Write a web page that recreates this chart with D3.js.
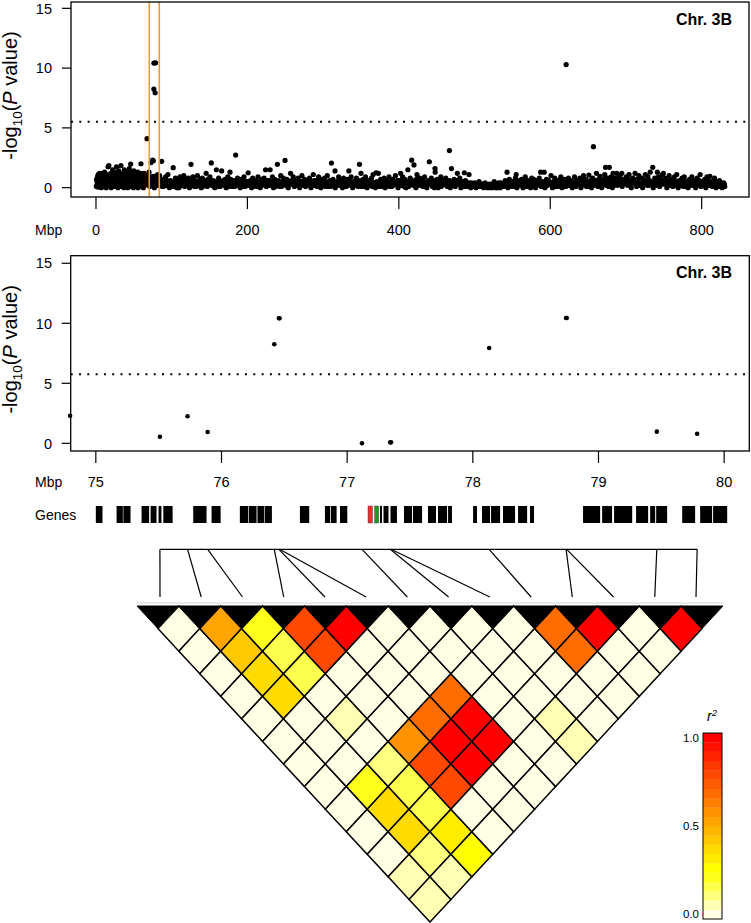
<!DOCTYPE html>
<html><head><meta charset="utf-8">
<script src="https://cdn.jsdelivr.net/npm/d3@7"></script>
<style>body{margin:0;background:#fff}svg{display:block;font-family:"Liberation Sans",Arial,Helvetica,sans-serif}</style>
</head><body><svg id="c" width="751" height="923"></svg>
<script>
// ---------------- DATA ----------------
const chromLabel = "Chr. 3B";
const genomeTicks = [0, 200, 400, 600, 800];
const regionTicks = [75, 76, 77, 78, 79, 80];
const pTicks = [0, 5, 10, 15];
const genomeThreshold = 5.52;
const regionThreshold = 5.75;
const highlightMbp = [70.4, 83.6];

// genome-wide points [Mbp, -log10 P]
const gwasPoints = [
[0.5,0.1],[1,0.6],[1.5,0.3],[2,0.9],[2.5,0.05],[3,1.1],[3.5,0.4],[4,0.7],[5,0.2],[5.5,1.0],[6,0.5],[7,0.0],[7.5,0.8],[8,1.2],[9,0.3],[9.5,0.6],[10,0.1],[11,0.9],[11.5,1.3],[12,0.4],[13,0.7],[13.5,0.0],[14,1.1],[15,0.5],[15.5,0.2],[16,1.75],[16.5,0.8],[17,1.84],[17.5,1.0],[18,0.3],[19,0.6],[19.5,1.2],[20,0.0],[21,0.9],[21.5,0.4],[22,1.5],[23,0.7],[23.5,0.1],[24,1.1],[25,0.5],[25.5,0.9],[26,0.2],[27,1.75],[27.5,0.6],[28,1.3],[29,0.0],[29.5,0.8],[30,1.4],[31,0.3],[31.5,1.0],[32,0.5],[33,1.84],[33.5,0.7],[34,0.1],[35,1.2],[35.5,0.4],[36,0.9],[37,0.0],[37.5,1.5],[38,0.6],[39,1.1],[39.5,0.2],[40,0.8],[41,1.3],[41.5,0.4],[42,0.0],[43,1.0],[43.5,0.6],[44,1.6],[45,0.3],[45.8,1.97],[46,0.9],[47,0.1],[47.5,1.2],[48,0.5],[49,0.8],[49.5,0.0],[50,1.4],[51,0.3],[51.5,0.7],[52,1.1],[53,0.2],[53.5,0.9],[54,0.5],[55,1.3],[55.5,0.0],[56,0.7],[57,1.0],[57.5,0.3],[58,0.6],[59,1.2],[59.4,2.0],[60,0.1],[60.5,0.8],[61,0.4],[62,1.1],[62.5,0.0],[63,0.6],[64,0.9],[64.5,0.2],[65,0.5],
[65.5,0.3],[66,1.0],[67.4,4.1],[68,0.7],[69,0.3],[70,1.3],[71,0.1],[72,0.6],[72.7,2.1],[73,0.9],[74,0.2],[74.8,2.3],[75.52,0.55],[75.73,2.25],[75.89,0.94],[76.42,8.25],[76.46,10.42],[77.12,0.0],[77.35,0.08],[78.13,7.94],[78.74,10.44],[79.46,0.97],[79.78,0.8],[80.5,0.4],[81.5,1.1],[82.5,0.2],[83.5,0.7],
[85,0.3],[86.8,2.2],[88,0.7],[89,0.1],[90.5,0.5],[92,0.9],[93.5,0.2],[95,1.1],[97,0.0],[98.5,0.6],
[100,0.4],[102,1.67],[103,0.1],[105,0.8],[106.5,0.3],[108,0.6],[109.5,0.0],[111,0.9],[112.5,0.2],[114,0.5],[116,1.0],[117,0.1],[119,0.7],
[120.5,0.3],[122,0.8],[123.5,0.0],[125.5,1.95],[126,0.5],[128,0.9],[129.5,0.2],[131,0.6],[132.5,0.1],[134,1.0],[136,0.4],[137.5,0.7],[139,0.0],
[140.5,0.8],[142,0.3],[144,0.6],[145.5,1.2],[147,0.1],[149,0.5],[150.5,0.9],[152.3,2.07],[153,0.2],[155,0.6],[157,0.0],[159,1.5],
[160.5,0.4],[162,0.8],[164,0.1],[166,1.4],[167,0.5],[169,0.2],[170.5,0.7],[172,0.0],[174,0.9],[175.5,0.3],[177,1.3],[179,0.5],
[180.5,0.1],[182,0.6],[184.5,2.73],[185,0.2],[187,0.8],[189,0.4],[190.5,0.0],[192,0.7],[194,0.3],[195.5,0.9],[197,0.1],[199,0.5],
[201,1.25],[202,0.2],[204,0.6],[205.5,0.0],[207,0.8],[209,0.3],[210.5,0.6],[212,0.1],[214,0.9],[215.5,0.4],[217,0.0],[219,0.7],
[220.5,0.3],[222,0.8],[224,1.5],[225,0.1],[227,0.6],[229,0.2],[230,1.5],[231,0.5],[233,0.9],[234.5,0.0],[236,0.7],[238,0.3],[239.6,1.95],
[241,0.6],[242.5,0.1],[244,1.0],[246,0.4],[247.5,0.8],[249.7,2.28],[250.5,0.2],[252,0.7],[254,0.0],[255.5,0.5],[257,1.2],[259,0.3],
[260.5,0.9],[262,0.1],[264,0.6],[265.5,0.3],[267,0.8],[269,0.0],[270.5,0.5],[272,1.0],[274,0.2],[275.5,0.7],[277,0.1],[279,0.6],
[280.5,0.3],[282,0.8],[284,0.0],[285.5,0.5],[287,1.1],[289,0.2],[290.5,0.6],[292,0.1],[294,0.9],[295.5,0.4],[297,0.0],[299,0.7],
[300.5,0.2],[302,0.8],[304,0.5],[305.5,1.0],[307,0.1],[309,0.6],[311,2.06],[311.5,0.3],[313,0.7],[315.7,1.4],[316,0.0],[318,0.5],
[320.5,0.9],[322,0.2],[324,0.6],[325.5,0.0],[327,0.8],[329,0.4],[330.5,0.1],[332,0.7],[334,1.4],[335,0.3],[337,0.9],[339,0.0],
[340.5,0.5],[342,0.2],[344,0.8],[345.5,0.4],[348,1.95],[349,0.6],[350,1.2],[351,0.1],[353,0.7],[354.5,0.3],[356,0.9],[358,0.0],
[360.5,0.6],[362,0.2],[364,0.8],[366,1.1],[367,0.4],[369,0.0],[370,1.25],[371,0.5],[373,1.2],[374,0.1],[376,0.7],[378,0.3],
[380.5,0.8],[382,0.0],[384,0.6],[385.5,0.2],[387,0.9],[389,0.4],[390.5,0.1],[392,0.7],[394,0.3],[395.5,1.0],[397,0.5],[399,0.0],
[400.5,0.6],[402.4,1.2],[403,0.2],[405,0.9],[406.5,0.4],[408,0.7],[409.5,0.0],[410.5,0.5],[412,1.5],[413,0.1],[415,0.8],[417,2.3],[418,0.3],[420,1.9],
[421,0.6],[422.5,0.0],[424,1.1],[426,0.4],[427.5,0.8],[429,0.2],[430.5,0.7],[432,0.1],[434,0.9],[435.5,0.4],[437,0.0],[439,0.6],
[440.3,2.17],[441,0.3],[443,0.8],[444.5,0.1],[446,0.6],[447.8,1.6],[448,1.3],[449,0.2],[450.5,0.7],[452,0.0],[454,0.5],[455.5,0.9],[457,0.2],[459,0.6],
[460.5,0.3],[462,0.8],[464,0.1],[465.5,0.5],[466.8,3.1],[468,0.0],[469.5,1.6],[471,0.4],[473,0.7],[474.5,0.1],[476,0.6],[477.3,1.2],[479,0.3],
[480.5,0.8],[482,0.0],[484,0.5],[485.5,0.2],[486.5,1.25],[488,0.6],[490.5,0.1],[492.7,1.1],[493,0.4],[495,0.0],[497,0.3],[499,0.1],
[500.5,0.4],[502,0.0],[504,0.2],[506,0.5],[508,0.1],[510.5,0.3],[512,0.0],[514,0.4],[516,0.1],[518,0.2],[520.5,0.0],[522,0.3],[524,0.1],[526,0.5],[528,0.0],
[530.5,0.2],[532,0.4],[534,0.0],[536,0.3],[538,0.1],[540.5,0.6],[542,0.2],[543,1.3],[544,0.0],[546,0.7],[548,0.3],
[550.5,0.5],[552,0.1],[554,0.8],[555,1.1],[556,0.0],[558,0.4],[560.5,0.2],[562,0.7],[564,0.0],[565.5,0.5],[567,0.9],[569,0.1],
[570.5,0.6],[572,0.3],[574,0.0],[575.5,0.8],[577,0.2],[579,0.5],[580.5,0.0],[582,0.6],[584,0.3],[585.5,0.8],[587.4,1.3],[588,0.1],
[590,0.5],[592,1.3],[593,0.0],[595,0.7],[596.5,0.2],[598,0.6],[600.5,0.3],[601,1.0],[603,0.0],[604.5,0.5],[606,0.8],[608,0.1],
[610.5,0.6],[612,0.2],[614,0.9],[615.5,0.0],[617,0.4],[619,0.7],[620.5,0.1],[621,10.3],[622,0.5],[624,0.8],[625.5,0.2],[627,0.6],[629,0.0],
[630.5,0.4],[632,0.9],[634,0.1],[635.5,0.6],[637,0.3],[639,0.8],[640.5,0.0],[642,0.5],[644,1.0],[645.5,0.2],[647,0.7],[649,0.4],
[650.5,0.1],[651,1.05],[653,0.6],[654.5,0.0],[656,0.8],[657,3.43],[659,0.3],[660.5,0.6],[661,1.2],[663,0.1],[665.8,0.95],[666,0.4],[668,0.0],
[670.5,0.7],[672,1.1],[673,1.7],[674,0.2],[676,0.8],[678,1.7],[679,0.3],[680.5,0.9],[682,0.0],[683,1.2],[684,0.5],[686,0.8],[688,1.2],[689,0.2],
[690.5,0.6],[692,1.0],[694.5,1.2],[695,0.1],[697,0.7],[699,0.4],[700.5,0.9],[702,0.2],[704,1.1],[705.5,0.5],[707,0.0],[709,0.8],
[710.5,0.4],[712,1.2],[714,0.1],[715.5,0.7],[717,1.0],[719,0.3],[720.5,0.8],[722,0.0],[724,0.6],[725.5,1.1],[727,0.3],[729,0.9],
[730.5,0.2],[732,1.3],[734,0.5],[735.4,1.7],[736,0.0],[738,0.8],[740.5,0.4],[741.5,1.3],[743,0.9],[744.5,0.1],[746,0.7],[748,1.1],[749.4,1.2],
[750.5,0.3],[752,0.8],[754,0.0],[755.5,0.6],[757,1.0],[759,0.2],[760.5,0.7],[762,0.1],[764,0.9],[765.5,0.4],[767,1.1],[769,0.0],
[770.5,0.6],[772,0.2],[774,0.8],[775.5,0.3],[777,0.9],[779,0.1],[780.5,0.5],[782,0.0],[784,0.7],[785.5,0.3],[787,0.9],[789,0.2],
[790.5,0.6],[792,0.0],[794,0.8],[795.5,0.4],[798,1.1],[799,0.1],[800.5,0.5],[802,0.2],[804,0.7],[805.5,0.0],[807,0.9],[809,0.3],
[811,0.95],[812,0.4],[814,0.1],[815.5,0.6],[817,0.8],[819,0.0],[820.5,0.5],[822,0.2],[823.5,0.6],[825,0.3],[827,0.0],[829,0.4],[830.5,0.1]
];
// further genome-wide markers in the dense low band
const gwasPointsLow = [
[0.8,0.7],[1.8,0.2],[2.8,1.0],[3.8,0.5],[4.5,1.2],[6.5,0.8],[8.5,0.1],[10.5,1.0],[12.5,0.6],[14.5,0.3],[16.8,0.5],[18.5,1.1],[20.5,0.7],[22.5,0.2],[24.5,0.8],[26.5,1.2],[28.5,0.4],[30.5,0.7],[32.5,1.1],[34.5,0.6],[36.5,0.2],[38.5,1.0],[40.5,0.3],[42.5,0.9],[44.5,0.6],[46.5,1.3],[48.5,0.2],[50.5,0.9],[52.5,0.5],[54.5,1.0],[56.5,0.3],[58.5,0.9],[61.5,0.7],[63.5,1.2],[65.2,0.8],[67,0.5],[69.5,0.9],[71.5,0.6],[73.5,0.3],[79,0.5],[81,0.2],[82,0.8],[84,1.0],
[86,0.5],[87.5,0.1],[91,0.3],[94,0.6],[96,0.1],[99,0.4],[101,0.2],[104,0.5],[107,0.0],[110,0.4],[113,0.7],[115,0.2],[118,0.4],
[121,0.6],[124,0.2],[127,0.4],[130,0.1],[133,0.5],[135,0.2],[138,0.4],[141,0.1],[143,0.5],[146,0.3],[148,0.7],[151,0.3],[154,0.4],[156,0.1],[158,0.5],
[161,0.1],[163,0.5],[165,0.3],[168,0.6],[171,0.3],[173,0.5],[176,0.1],[178,0.7],[181,0.4],[183,0.1],[186,0.5],[188,0.2],[191,0.4],[193,0.1],[196,0.5],[198,0.2],
[200.5,0.5],[203,0.3],[206,0.6],[208,0.1],[211,0.3],[213,0.5],[216,0.2],[218,0.4],[221,0.5],[223,0.2],[226,0.4],[228,0.6],[232,0.2],[235,0.4],[237,0.1],[239,0.5],
[240,0.3],[243,0.4],[245,0.1],[248,0.5],[251,0.4],[253,0.1],[256,0.3],[258,0.6],[261,0.4],[263,0.2],[266,0.5],[268,0.3],[271,0.2],[273,0.5],[276,0.4],[278,0.2],
[281,0.5],[283,0.2],[286,0.3],[288,0.6],[291,0.4],[293,0.2],[296,0.6],[298,0.3],[301,0.5],[303,0.1],[306,0.3],[308,0.4],[310,0.1],[312,0.5],[314,0.2],[317,0.3],[319,0.2],
[321,0.5],[323,0.3],[326,0.4],[328,0.1],[331,0.4],[333,0.2],[336,0.5],[338,0.3],[341,0.3],[343,0.5],[346,0.1],[347,0.3],[352,0.4],[355,0.1],[357,0.5],[359,0.3],
[361,0.3],[363,0.5],[365,0.1],[368,0.4],[372,0.3],[375,0.4],[377,0.1],[379,0.5],[381,0.3],[383,0.4],[386,0.5],[388,0.1],[391,0.5],[393,0.2],[396,0.3],[398,0.6],
[401,0.3],[404,0.5],[407,0.1],[409,0.4],[411,0.2],[414,0.4],[416,0.6],[419,0.2],[422,0.4],[423,0.7],[425,0.2],[428,0.5],[431,0.3],[433,0.5],[436,0.2],[438,0.4],
[442,0.5],[445,0.3],[447,0.0],[449.5,0.5],[451,0.3],[453,0.6],[456,0.1],[458,0.4],[461,0.5],[463,0.2],[465,0.3],[467,0.6],[470,0.2],[472,0.5],[475,0.3],[478,0.5],
[481,0.4],[483,0.2],[485,0.4],[487,0.1],[489,0.5],[491,0.3],[494,0.2],[496,0.4],[498,0.2],
[501,0.2],[503,0.3],[505,0.1],[507,0.2],[509,0.3],[511,0.1],[513,0.2],[515,0.3],[517,0.0],[519,0.3],
[521,0.2],[523,0.0],[525,0.2],[527,0.3],[529,0.1],[531,0.0],[533,0.2],[535,0.4],[537,0.2],[539,0.3],
[541,0.4],[543.5,0.1],[545,0.3],[547,0.5],[549,0.1],[551,0.3],[553,0.5],[555.5,0.2],[557,0.6],[559,0.3],
[561,0.5],[563,0.3],[566,0.2],[568,0.4],[571,0.1],[573,0.5],[576,0.4],[578,0.7],[581,0.3],[583,0.5],[586,0.2],[589,0.4],[591,0.2],[594,0.4],[597,0.5],[599,0.3],
[602,0.4],[604,0.2],[607,0.3],[609,0.6],[611,0.4],[613,0.1],[616,0.6],[618,0.2],[621.5,0.4],[623,0.2],[626,0.5],[628,0.3],[631,0.2],[633,0.5],[636,0.3],[638,0.5],
[641,0.3],[643,0.7],[646,0.4],[648,0.1],[652,0.3],[655,0.5],[658,0.2],[659.5,0.6],[662,0.4],[664,0.7],[667,0.2],[669,0.5],[671,0.3],[675,0.5],[677,0.1],[680,0.4],
[681,0.6],[685,0.2],[687,0.5],[690,0.3],[691,0.8],[693,0.4],[696,0.3],[698,0.6],[701,0.5],[703,0.7],[706,0.3],[708,0.5],[711,0.7],[713,0.3],[716,0.5],[718,0.2],
[721,0.4],[723,0.7],[726,0.5],[728,0.2],[731,0.6],[733,0.3],[737,0.4],[739,0.6],[741,0.2],[742,0.6],[745,0.4],[747,0.3],[751,0.6],[753,0.4],[756,0.2],[758,0.5],
[761,0.4],[763,0.6],[766,0.2],[768,0.5],[771,0.4],[773,0.6],[776,0.1],[778,0.5],[781,0.3],[783,0.6],[786,0.2],[788,0.5],[791,0.3],[793,0.5],[796,0.2],[797,0.6],
[801,0.3],[803,0.5],[806,0.4],[808,0.6],[810,0.2],[813,0.5],[816,0.3],[818,0.4],[821,0.3],[824,0.1],[826,0.4],[828,0.2],[830,0.3]
];

// region SNPs (also the LD SNPs)
const snpPos  = [75.51, 75.73, 75.89, 76.42, 76.457, 76.462, 77.118, 77.343, 77.349, 78.13, 78.742, 78.747, 79.464, 79.785];
const snpLogP = [0.55, 2.25, 0.94, 8.25, 10.42, 10.42, 0.0, 0.08, 0.08, 7.94, 10.44, 10.44, 0.97, 0.8];
const extraPos  = [74.795];
const extraLogP = [2.3];

// gene models [start, end] Mbp
const genes = [
[75.000,75.053],[75.165,75.215],[75.219,75.276],[75.364,75.424],[75.436,75.483],[75.499,75.522],[75.537,75.611],
[75.775,75.881],[75.921,75.993],[76.146,76.213],[76.218,76.279],[76.286,76.338],[76.343,76.401],[76.624,76.698],
[76.823,76.865],[76.871,76.916],[76.943,77.001],[77.261,77.277],[77.289,77.329],[77.345,77.396],[77.452,77.516],
[77.524,77.596],[77.643,77.707],[77.723,77.795],[77.803,77.834],[78.002,78.033],[78.073,78.137],[78.145,78.217],
[78.240,78.336],[78.360,78.432],[78.455,78.487],[78.877,79.013],[79.029,79.108],[79.124,79.268],[79.299,79.395],
[79.411,79.451],[79.459,79.546],[79.666,79.769],[79.809,79.904],[79.912,80.024]
];
const candidateRed   = [77.166, 77.201];
const candidateGreen = [77.219, 77.250];

// pairwise LD r^2 : ldR2[i][k] = r2(i, i+1+k)
const ldR2 = [
[.02,.02,.02,.02,.02,.02,.02,.02,.02,.02,.03,.07,.07],
[.52,.43,.37,.37,.02,.02,.02,.24,.37,.37,.12,.07],
[.22,.17,.17,.02,.07,.02,.12,.16,.16,.33,.27],
[.77,.77,.02,.02,.02,.57,.77,.77,.02,.02],
[.98,.02,.02,.02,.67,.98,.98,.02,.02],
[.02,.02,.02,.67,.98,.98,.02,.02],
[.02,.02,.02,.02,.02,.02,.02],
[.02,.02,.02,.02,.07,.07],
[.02,.02,.02,.02,.02],
[.67,.67,.02,.02],
[.98,.02,.02],
[.02,.02],
[.97]
];
const legendTicks = [0, 0.5, 1];
const heatPalette = ["#FFFFE6","#FFFFB3","#FFFF80","#FFFF4D","#FFFF1A","#FFFF00","#FFED00","#FFDB00","#FFC800","#FFB600",
                     "#FFA400","#FF9200","#FF8000","#FF6D00","#FF5B00","#FF4900","#FF3700","#FF2400","#FF1200","#FF0000"];

// ---------------- DRAW ----------------
const svg = d3.select("#c");
const FS = 14.5;

function yLabel(g, cx, cy) {
  const t = g.append("text").attr("transform", `translate(${cx},${cy}) rotate(-90)`)
    .attr("text-anchor", "middle").attr("font-size", 20);
  t.append("tspan").text("-log");
  t.append("tspan").attr("font-size", 13.5).attr("dy", 5).text("10");
  t.append("tspan").attr("dy", -5).text("(");
  t.append("tspan").attr("font-style", "italic").text("P");
  t.append("tspan").text(" value)");
}

function panel(opt) {
  const g = svg.append("g");
  const {x, y, pts, r} = opt;
  const [x0, x1] = x.range(), [y0, y1] = y.range();
  g.append("g").selectAll("circle").data(pts).join("circle")
    .attr("cx", d => x(d[0])).attr("cy", d => y(d[1])).attr("r", r).attr("fill", "#000");
  if (opt.highlight) {
    g.selectAll("line.hl").data(opt.highlight).join("line")
      .attr("x1", d => x(d)).attr("x2", d => x(d)).attr("y1", y1).attr("y2", y0)
      .attr("stroke", "#EC9A36").attr("stroke-width", 1.6);
  }
  g.append("line").attr("x1", x0).attr("x2", x1).attr("y1", y(opt.thr)).attr("y2", y(opt.thr))
    .attr("stroke", "#000").attr("stroke-width", 2).attr("stroke-dasharray", "2,6.3");
  g.append("rect").attr("x", x0).attr("y", y1).attr("width", x1 - x0).attr("height", y0 - y1)
    .attr("fill", "none").attr("stroke", "#000").attr("stroke-width", 1.3);
  const ya = g.append("g");
  ya.selectAll("line").data(pTicks).join("line")
    .attr("x1", x0 - 9).attr("x2", x0).attr("y1", d => y(d)).attr("y2", d => y(d))
    .attr("stroke", "#000").attr("stroke-width", 1.2);
  ya.selectAll("text").data(pTicks).join("text")
    .attr("x", 52).attr("y", d => y(d)).attr("dy", "0.36em").attr("text-anchor", "end")
    .attr("font-size", FS).text(d => d);
  const xa = g.append("g");
  xa.selectAll("line").data(opt.xticks).join("line")
    .attr("x1", d => x(d)).attr("x2", d => x(d)).attr("y1", y0).attr("y2", y0 + 12)
    .attr("stroke", "#000").attr("stroke-width", 1.2);
  xa.selectAll("text").data(opt.xticks).join("text")
    .attr("x", d => x(d)).attr("y", opt.labY).attr("text-anchor", "middle")
    .attr("font-size", FS).text(d => d);
  g.append("text").attr("x", 35).attr("y", opt.labY).attr("font-size", 14).text("Mbp");
  g.append("text").attr("x", 732).attr("y", y1 + 22.5).attr("text-anchor", "end")
    .attr("font-size", 16).attr("font-weight", "bold").text(chromLabel);
  yLabel(g, 17, (y0 + y1) / 2 - 4);
}

const xG = d3.scaleLinear().domain([-33, 862.5]).range([71, 749]);
const yG = d3.scaleLinear().domain([-0.78, 15.53]).range([197, 2]);
panel({x: xG, y: yG, pts: gwasPoints.concat(gwasPointsLow), r: 2.6, thr: genomeThreshold, xticks: genomeTicks,
       labY: 235, highlight: highlightMbp});

const xR = d3.scaleLinear().domain([74.8, 80.2]).range([70.7, 749.3]);
const yR = d3.scaleLinear().domain([-0.64, 15.63]).range([451, 255.7]);
const regionPts = snpPos.map((p, i) => [p, snpLogP[i]]).concat(extraPos.map((p, i) => [p, extraLogP[i]]));
panel({x: xR, y: yR, pts: regionPts, r: 2.3, thr: regionThreshold, xticks: regionTicks, labY: 487});

// genes track
const gy0 = 506, gy1 = 523;
svg.append("text").attr("x", 35).attr("y", 520).attr("font-size", 14).text("Genes");
svg.append("g").selectAll("rect").data(genes).join("rect")
  .attr("x", d => xR(d[0])).attr("width", d => Math.max(1.5, xR(d[1]) - xR(d[0])))
  .attr("y", gy0).attr("height", gy1 - gy0).attr("fill", "#000");
[[candidateRed, "#F42C2C"], [candidateGreen, "#1E9A1E"]].forEach(([d, c]) => {
  svg.append("rect").attr("x", xR(d[0])).attr("width", xR(d[1]) - xR(d[0]))
    .attr("y", gy0).attr("height", gy1 - gy0).attr("fill", c)
    .attr("stroke", "#444").attr("stroke-width", 0.5);
});

// LD heatmap
const n = snpPos.length;
const band = d3.scaleBand().domain(d3.range(n)).range([137, 723]);
const dw = band.bandwidth() / 2;
const ldTop = 606, ldBottom = 922;
const dh = (ldBottom - ldTop) / n;
const cx = i => band(i) + dw;
const color = d3.scaleQuantize().domain([0, 1]).range(heatPalette);
const lineEnd = d3.scalePoint().domain(d3.range(n)).range([160, 696]);

const conTop = 549.3, conBot = 597;
svg.append("line").attr("x1", xR(snpPos[0])).attr("x2", xR(snpPos[n - 1]))
  .attr("y1", conTop).attr("y2", conTop).attr("stroke", "#000").attr("stroke-width", 1.2);
svg.append("g").selectAll("line").data(snpPos).join("line")
  .attr("x1", d => xR(d)).attr("y1", conTop).attr("x2", (d, i) => lineEnd(i)).attr("y2", conBot)
  .attr("stroke", "#000").attr("stroke-width", 1.2);
svg.append("line").attr("x1", 137).attr("x2", 723).attr("y1", 603).attr("y2", 603)
  .attr("stroke", "#d4d4d4").attr("stroke-width", 1);

const cells = [];
ldR2.forEach((row, i) => row.forEach((v, k) => cells.push({i, j: i + 1 + k, v})));
const ld = svg.append("g");
ld.selectAll("path.cell").data(cells).join("path")
  .attr("d", c => {
    const x = (cx(c.i) + cx(c.j)) / 2, y = ldTop + (c.j - c.i) * dh;
    return `M${x},${y - dh}L${x + dw},${y}L${x},${y + dh}L${x - dw},${y}Z`;
  })
  .attr("fill", c => color(c.v)).attr("stroke", "#000").attr("stroke-width", 1.5);
ld.selectAll("path.diag").data(d3.range(n)).join("path")
  .attr("d", i => `M${cx(i) - dw},${ldTop}L${cx(i) + dw},${ldTop}L${cx(i)},${ldTop + dh}Z`)
  .attr("fill", "#000").attr("stroke", "#000").attr("stroke-width", 1);

// legend
const lgX = 703, lgW = 19, lgTop = 733, lgBot = 919;
const bh = (lgBot - lgTop) / heatPalette.length;
svg.append("g").selectAll("rect").data(heatPalette).join("rect")
  .attr("x", lgX).attr("width", lgW).attr("y", (c, k) => lgBot - (k + 1) * bh).attr("height", bh + 0.3)
  .attr("fill", c => c);
svg.append("rect").attr("x", lgX).attr("y", lgTop).attr("width", lgW).attr("height", lgBot - lgTop)
  .attr("fill", "none").attr("stroke", "#000").attr("stroke-width", 1);
const lgScale = d3.scaleLinear().domain([0, 1]).range([lgBot - bh / 2, lgTop + bh / 2]);
svg.append("g").selectAll("text").data(legendTicks).join("text")
  .attr("x", 699).attr("y", d => lgScale(d)).attr("dy", "0.36em").attr("text-anchor", "end")
  .attr("font-size", 11.5).text(d => d.toFixed(1));
const rt = svg.append("text").attr("x", 712).attr("y", 721).attr("text-anchor", "middle")
  .attr("font-size", 14).attr("font-style", "italic");
rt.append("tspan").text("r");
rt.append("tspan").attr("font-size", 9.5).attr("dy", -5).text("2");
</script></body></html>
